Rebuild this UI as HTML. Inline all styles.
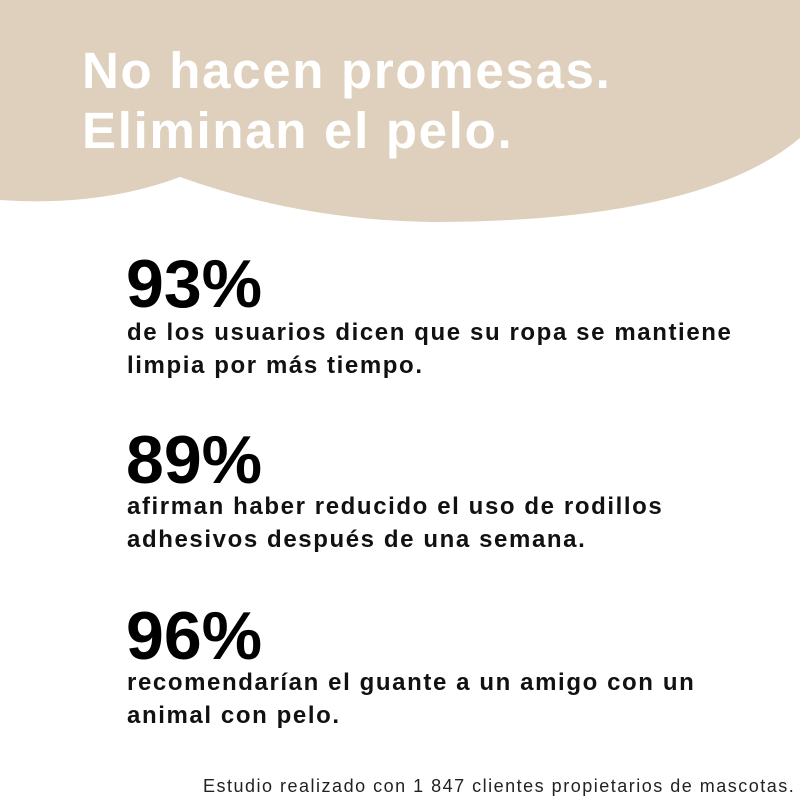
<!DOCTYPE html>
<html><head><meta charset="utf-8"><style>
body{margin:0;width:800px;height:800px;background:#fff;position:relative;overflow:hidden;font-family:"Liberation Sans",sans-serif;}
svg{position:absolute;left:0;top:0}
.t{position:absolute;left:82px;color:#fff;font-weight:bold;font-size:51px;letter-spacing:1.7px;white-space:nowrap}
.p{position:absolute;left:126px;font-weight:bold;font-size:68px;color:#000;white-space:nowrap;letter-spacing:0px}
.b{position:absolute;left:127px;font-weight:bold;font-size:24px;color:#111;line-height:33px;letter-spacing:1.6px;white-space:nowrap}
.f{position:absolute;left:203px;top:776px;font-size:18px;color:#222;letter-spacing:1.5px;white-space:nowrap}
</style></head><body>
<svg width="800" height="800"><path d="M0,0 H800 V138 Q700,222 430,222 Q300,220 180,177 Q100,207 0,200 Z" fill="#ded0bd"/></svg>
<div class="t" style="top:41px">No hacen promesas.</div>
<div class="t" style="top:101px">Eliminan el pelo.</div>
<div class="p" style="top:245px">93%</div>
<div class="b" style="top:316px">de los usuarios dicen que su ropa se mantiene<br>limpia por más tiempo.</div>
<div class="p" style="top:421px">89%</div>
<div class="b" style="top:490px">afirman haber reducido el uso de rodillos<br>adhesivos después de una semana.</div>
<div class="p" style="top:597px">96%</div>
<div class="b" style="top:666px">recomendarían el guante a un amigo con un<br>animal con pelo.</div>
<div class="f">Estudio realizado con 1 847 clientes propietarios de mascotas.</div>
</body></html>
